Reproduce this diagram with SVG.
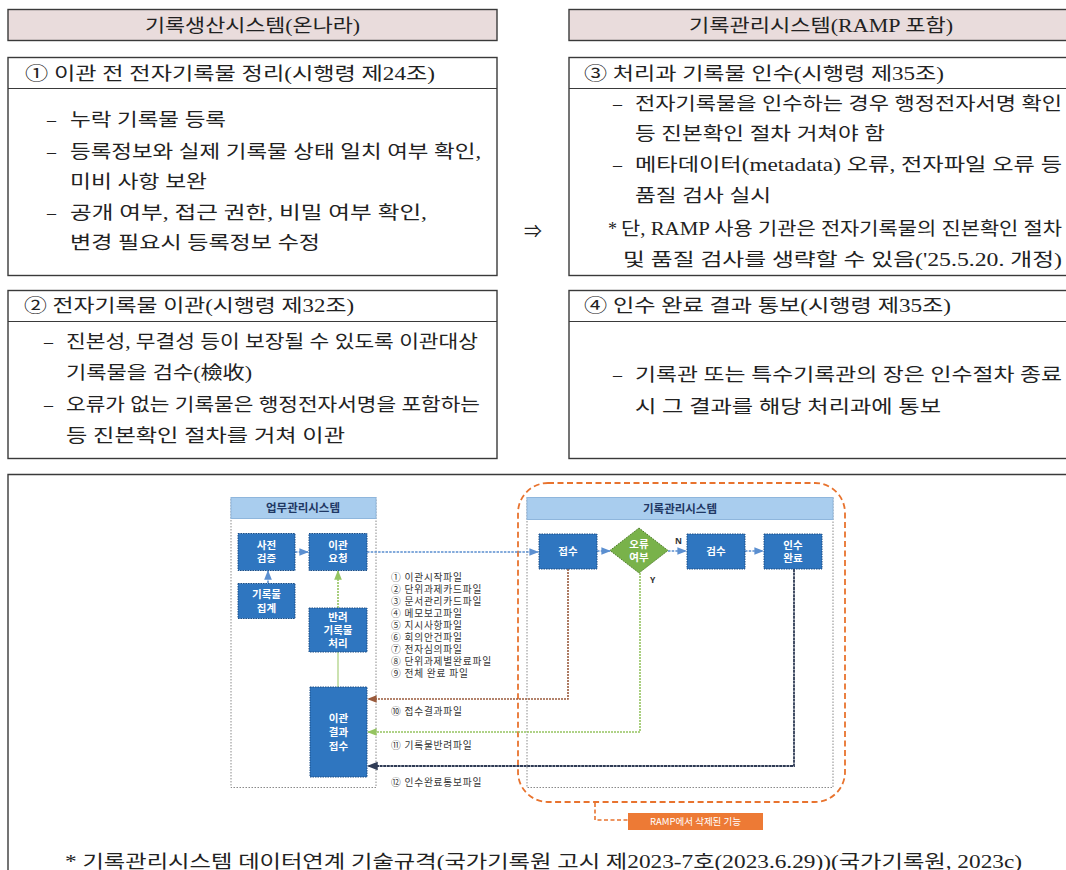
<svg xmlns="http://www.w3.org/2000/svg" width="1066" height="870" viewBox="0 0 1066 870">
<defs>
<style>
.bx{fill:#fff;stroke:#3a3a3a;stroke-width:1.4}
.hd{fill:#e9dcdc;stroke:#3a3a3a;stroke-width:1.4}
.ln{stroke:#3a3a3a;stroke-width:1.2}
.t{font-family:"Liberation Serif","Noto Sans CJK KR",serif;font-size:18px;fill:#222}
.nd{fill:#2f76c0;stroke:#1d4f86;stroke-width:1;stroke-dasharray:1.5 1}
.nt{font-family:"Noto Sans CJK KR","Noto Sans",sans-serif;font-size:10.5px;font-weight:bold;fill:#fff;text-anchor:middle}
.pn{fill:none;stroke:#8a8a8a;stroke-width:1;stroke-dasharray:1.5 1.5}
.ph{fill:#a9cdee;stroke:#8fb6dc;stroke-width:1}
.pt{font-family:"Noto Sans CJK KR","Noto Sans",sans-serif;font-size:11.5px;font-weight:bold;fill:#1f3864;text-anchor:middle}
.li{font-family:"Noto Sans CJK KR","Noto Sans",sans-serif;font-size:9.7px;fill:#333;letter-spacing:0.8px}
.cb{fill:none;stroke:#5b8fd0;stroke-width:1.6;stroke-dasharray:2.5 1.2}
.cr{fill:none;stroke:#9a5b3c;stroke-width:1.6;stroke-dasharray:2 1}
.cg{fill:none;stroke:#95c460;stroke-width:1.6;stroke-dasharray:2 1}
.cn{fill:none;stroke:#2f3b55;stroke-width:1.8;stroke-dasharray:3 0.6}
</style>
<marker id="ab" viewBox="0 0 10 10" refX="9" refY="5" markerWidth="6" markerHeight="6" orient="auto"><path d="M0,1 L10,5 L0,9 z" fill="#5b8fd0"/></marker>
<marker id="ar" viewBox="0 0 10 10" refX="9" refY="5" markerWidth="6" markerHeight="6" orient="auto"><path d="M0,1 L10,5 L0,9 z" fill="#9a5b3c"/></marker>
<marker id="ag" viewBox="0 0 10 10" refX="9" refY="5" markerWidth="6" markerHeight="6" orient="auto"><path d="M0,1 L10,5 L0,9 z" fill="#95c460"/></marker>
<marker id="an" viewBox="0 0 10 10" refX="9" refY="5" markerWidth="6" markerHeight="6" orient="auto"><path d="M0,1 L10,5 L0,9 z" fill="#2f3b55"/></marker>
</defs>
<rect width="1066" height="870" fill="#fff"/>

<g id="hdr-left">
<rect class="hd" x="8" y="9.5" width="489" height="31"/>
<text class="t" x="145" y="31.5" textLength="215" lengthAdjust="spacingAndGlyphs">기록생산시스템(온나라)</text>
</g>
<g id="hdr-right">
<rect class="hd" x="569" y="9.5" width="510" height="31"/>
<text class="t" x="689" y="31.5" textLength="264" lengthAdjust="spacingAndGlyphs">기록관리시스템(RAMP 포함)</text>
</g>

<g id="box1">
<rect class="bx" x="8" y="57.5" width="489" height="218"/>
<line class="ln" x1="8" y1="88.5" x2="497" y2="88.5"/>
<text class="t" x="25" y="80" textLength="410" lengthAdjust="spacingAndGlyphs">① 이관 전 전자기록물 정리(시행령 제24조)</text>
<text class="t" x="47" y="126">–</text>
<text class="t" x="70" y="126" textLength="156" lengthAdjust="spacingAndGlyphs">누락 기록물 등록</text>
<text class="t" x="47" y="158">–</text>
<text class="t" x="70" y="158" textLength="411" lengthAdjust="spacingAndGlyphs">등록정보와 실제 기록물 상태 일치 여부 확인,</text>
<text class="t" x="70" y="188" textLength="137" lengthAdjust="spacingAndGlyphs">미비 사항 보완</text>
<text class="t" x="47" y="219">–</text>
<text class="t" x="70" y="219" textLength="357" lengthAdjust="spacingAndGlyphs">공개 여부, 접근 권한, 비밀 여부 확인,</text>
<text class="t" x="70" y="249" textLength="250" lengthAdjust="spacingAndGlyphs">변경 필요시 등록정보 수정</text>
</g>

<text id="arrow-mid" class="t" x="533" y="238" text-anchor="middle">⇒</text>

<g id="box3">
<rect class="bx" x="569" y="57.5" width="510" height="218"/>
<line class="ln" x1="569" y1="88.5" x2="1066" y2="88.5"/>
<text class="t" x="584" y="80" textLength="360" lengthAdjust="spacingAndGlyphs">③ 처리과 기록물 인수(시행령 제35조)</text>
<text class="t" x="613" y="110">–</text>
<text class="t" x="635" y="110" textLength="427" lengthAdjust="spacingAndGlyphs">전자기록물을 인수하는 경우 행정전자서명 확인</text>
<text class="t" x="635" y="140" textLength="250" lengthAdjust="spacingAndGlyphs">등 진본확인 절차 거쳐야 함</text>
<text class="t" x="613" y="171">–</text>
<text class="t" x="635" y="171" textLength="427" lengthAdjust="spacingAndGlyphs">메타데이터(metadata) 오류, 전자파일 오류 등</text>
<text class="t" x="635" y="202" textLength="136" lengthAdjust="spacingAndGlyphs">품질 검사 실시</text>
<text class="t" x="608" y="235">*</text>
<text class="t" x="621" y="235" textLength="441" lengthAdjust="spacingAndGlyphs">단, RAMP 사용 기관은 전자기록물의 진본확인 절차</text>
<text class="t" x="623" y="266" textLength="439" lengthAdjust="spacingAndGlyphs">및 품질 검사를 생략할 수 있음('25.5.20. 개정)</text>
</g>

<g id="box2">
<rect class="bx" x="8" y="290.5" width="489" height="168"/>
<line class="ln" x1="8" y1="321.5" x2="497" y2="321.5"/>
<text class="t" x="24" y="312" textLength="330" lengthAdjust="spacingAndGlyphs">② 전자기록물 이관(시행령 제32조)</text>
<text class="t" x="44" y="348">–</text>
<text class="t" x="66" y="348" textLength="412" lengthAdjust="spacingAndGlyphs">진본성, 무결성 등이 보장될 수 있도록 이관대상</text>
<text class="t" x="66" y="379" textLength="186" lengthAdjust="spacingAndGlyphs">기록물을 검수(檢收)</text>
<text class="t" x="44" y="411">–</text>
<text class="t" x="66" y="411" textLength="414" lengthAdjust="spacingAndGlyphs">오류가 없는 기록물은 행정전자서명을 포함하는</text>
<text class="t" x="66" y="442" textLength="279" lengthAdjust="spacingAndGlyphs">등 진본확인 절차를 거쳐 이관</text>
</g>

<g id="box4">
<rect class="bx" x="569" y="290.5" width="510" height="168"/>
<line class="ln" x1="569" y1="321.5" x2="1066" y2="321.5"/>
<text class="t" x="584" y="312" textLength="367" lengthAdjust="spacingAndGlyphs">④ 인수 완료 결과 통보(시행령 제35조)</text>
<text class="t" x="613" y="381">–</text>
<text class="t" x="635" y="381" textLength="427" lengthAdjust="spacingAndGlyphs">기록관 또는 특수기록관의 장은 인수절차 종료</text>
<text class="t" x="635" y="413" textLength="306" lengthAdjust="spacingAndGlyphs">시 그 결과를 해당 처리과에 통보</text>
</g>

<g id="figure-frame">
<path d="M8,880 V474.5 H1080" fill="none" stroke="#3a3a3a" stroke-width="1.4"/>
</g>

<g id="panel-work">
<rect class="pn" x="231" y="497.5" width="145" height="290"/>
<rect class="ph" x="231" y="497.5" width="145" height="21"/>
<text class="pt" x="303" y="512">업무관리시스템</text>
</g>
<g id="panel-records">
<rect class="pn" x="527" y="497.5" width="306" height="290"/>
<rect class="ph" x="527" y="497.5" width="306" height="22"/>
<text class="pt" x="680" y="513">기록관리시스템</text>
</g>

<g id="ramp-removed">
<rect x="518" y="483" width="327" height="319" rx="30" fill="none" stroke="#e8732e" stroke-width="1.8" stroke-dasharray="6 3.5"/>
<path d="M595,803 V820 H628" fill="none" stroke="#e8732e" stroke-width="1.6" stroke-dasharray="4 2.5"/>
<rect x="628" y="813" width="135" height="17" fill="#ed7a35"/>
<text x="695.5" y="825" text-anchor="middle" font-family="Noto Sans CJK KR, Noto Sans, sans-serif" font-size="9.5px" fill="#fff">RAMP에서 삭제된 기능</text>
</g>

<g id="connectors">
<line class="cb" x1="295" y1="552" x2="308" y2="552" marker-end="url(#ab)"/>
<line class="cb" x1="268" y1="583" x2="268" y2="571" marker-end="url(#ab)"/>
<line class="cg" x1="338" y1="608" x2="338" y2="571" marker-end="url(#ag)"/>
<line x1="338" y1="687" x2="338" y2="652" stroke="#a8cf7c" stroke-width="1.2"/>
<line class="cb" x1="367" y1="552" x2="538" y2="552" marker-end="url(#ab)"/>
<line class="cb" x1="597" y1="551" x2="610" y2="551" marker-end="url(#ab)"/>
<line class="cb" x1="668" y1="551" x2="686" y2="551" marker-end="url(#ab)"/>
<line class="cb" x1="745" y1="551" x2="763" y2="551" marker-end="url(#ab)"/>
<path class="cr" d="M568,569 V699 H368" marker-end="url(#ar)"/>
<path class="cg" d="M640,573 V732 H368" marker-end="url(#ag)"/>
<path class="cn" d="M794,569 V766 H368" marker-end="url(#an)"/>
<text x="675" y="544" font-family="Noto Sans, sans-serif" font-size="8.5px" font-weight="bold" fill="#333">N</text>
<text x="650" y="583" font-family="Noto Sans, sans-serif" font-size="8.5px" font-weight="bold" fill="#333">Y</text>
</g>

<g id="n-precheck"><rect class="nd" x="238" y="533.5" width="57" height="37"/><text class="nt" x="266.5" y="548.5">사전</text><text class="nt" x="266.5" y="562">검증</text></g>
<g id="n-request"><rect class="nd" x="309" y="533.5" width="58" height="37"/><text class="nt" x="338" y="548.5">이관</text><text class="nt" x="338" y="562">요청</text></g>
<g id="n-collect"><rect class="nd" x="238" y="583.5" width="57" height="35"/><text class="nt" x="266.5" y="598">기록물</text><text class="nt" x="266.5" y="611.5">집계</text></g>
<g id="n-return"><rect class="nd" x="309" y="608" width="58" height="44"/><text class="nt" x="338" y="621">반려</text><text class="nt" x="338" y="634">기록물</text><text class="nt" x="338" y="647">처리</text></g>
<g id="n-result"><rect class="nd" x="310" y="687" width="57" height="90"/><text class="nt" x="338.5" y="722">이관</text><text class="nt" x="338.5" y="736">결과</text><text class="nt" x="338.5" y="750">접수</text></g>
<g id="n-receive"><rect class="nd" x="539" y="534" width="58" height="35"/><text class="nt" x="568" y="555">접수</text></g>
<g id="n-error"><polygon points="639,528 668,550.5 639,573 610,550.5" fill="#79b24a" stroke="#4e7d2a" stroke-width="1" stroke-dasharray="1.5 1"/><text class="nt" x="639" y="548">오류</text><text class="nt" x="639" y="561">여부</text></g>
<g id="n-inspect"><rect class="nd" x="687" y="534" width="58" height="35"/><text class="nt" x="716" y="555">검수</text></g>
<g id="n-done"><rect class="nd" x="764" y="534" width="58" height="35"/><text class="nt" x="793" y="548.5">인수</text><text class="nt" x="793" y="562">완료</text></g>

<g id="file-list">
<text class="li" x="391" y="581">① 이관시작파일</text>
<text class="li" x="391" y="593">② 단위과제카드파일</text>
<text class="li" x="391" y="605">③ 문서관리카드파일</text>
<text class="li" x="391" y="617">④ 메모보고파일</text>
<text class="li" x="391" y="629">⑤ 지시사항파일</text>
<text class="li" x="391" y="641">⑥ 회의안건파일</text>
<text class="li" x="391" y="653">⑦ 전자심의파일</text>
<text class="li" x="391" y="665">⑧ 단위과제별완료파일</text>
<text class="li" x="391" y="677">⑨ 전체 완료 파일</text>
<text class="li" x="391" y="715">⑩ 접수결과파일</text>
<text class="li" x="391" y="749">⑪ 기록물반려파일</text>
<text class="li" x="391" y="786">⑫ 인수완료통보파일</text>
</g>

<text id="footnote" class="t" x="65" y="868" textLength="957" lengthAdjust="spacingAndGlyphs">* 기록관리시스템 데이터연계 기술규격(국가기록원 고시 제2023-7호(2023.6.29))(국가기록원, 2023c)</text>
</svg>
